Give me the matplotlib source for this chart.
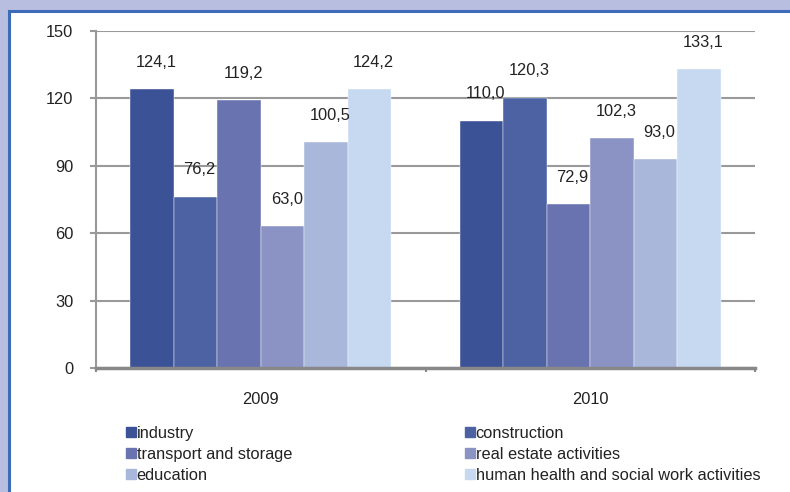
import numpy as np
import matplotlib.pyplot as plt
from matplotlib.patches import Rectangle
from matplotlib.lines import Line2D

years = ["2009", "2010"]
sectors = ["industry", "construction", "transport and storage",
           "real estate activities", "education",
           "human health and social work activities"]
values_2009 = [124.1, 76.2, 119.2, 63.0, 100.5, 124.2]
values_2010 = [110.0, 120.3, 72.9, 102.3, 93.0, 133.1]
colors = ["#3b5296", "#4c62a3", "#6873b0", "#8b93c4", "#a9b7db", "#c6d9f1"]

FS = 11.8
plt.rcParams['font.family'] = ['Liberation Sans', 'DejaVu Sans']
plt.rcParams['font.size'] = FS

fig = plt.figure(figsize=(7.9, 4.92), dpi=100, facecolor="#b8bee0")

# white panel with a blue border running off the right and bottom edges
W, H = 790.0, 492.0
frame = Rectangle((8.5 / W, -0.05), 1.2, 1 - 10.5 / H + 0.05,
                  transform=fig.transFigure, facecolor="white",
                  edgecolor="#3c6bb8", linewidth=2.2, zorder=-10)
fig.patches.append(frame)

ax = fig.add_axes([96 / W, 1 - 368 / H, (755 - 96) / W, (368 - 31) / H])
ax.set_facecolor("none")

data = np.array([values_2009, values_2010])
x = np.arange(len(years))
width = 0.132
for i, name in enumerate(sectors):
    pos = x + (i - 2.5) * width
    vals = data[:, i]
    ax.bar(pos, vals, width, color=colors[i], label=name, zorder=3,
           edgecolor="white", linewidth=0.3)
    for px, v in zip(pos, vals):
        ax.annotate(f"{v:.1f}".replace(".", ","), (px, v),
                    xytext=(3, 14), textcoords="offset points",
                    ha="center", va="bottom", fontsize=FS, color="#222222",
                    zorder=4)

ax.set_xlim(-0.5, 1.5)
ax.set_ylim(0, 150)
ax.set_yticks(np.arange(0, 151, 30))
ax.yaxis.grid(True, color="#999999", linewidth=1.5, zorder=1)
ax.set_axisbelow(True)

ax.set_xticks(x)
ax.set_xticklabels(years)
ax.set_xticks([-0.5, 0.5, 1.5], minor=True)
ax.tick_params(axis="x", which="major", length=0, pad=17, labelsize=FS)
ax.tick_params(axis="x", which="minor", length=3, width=1.5,
               color="#888888", direction="out")
ax.tick_params(axis="y", length=4.5, width=1.5, color="#999999",
               pad=12, labelsize=FS, labelcolor="#222222")
ax.tick_params(axis="x", labelcolor="#222222")

for side in ["top", "right"]:
    ax.spines[side].set_visible(False)
ax.spines["left"].set_color("#999999")
ax.spines["left"].set_linewidth(1.5)
ax.spines["bottom"].set_color("#888888")
ax.spines["bottom"].set_linewidth(2.5)
ax.spines["bottom"].set_zorder(5)

# legend split into two columns
def square(c):
    return Line2D([], [], marker="s", linestyle="none", markersize=6.5,
                  markerfacecolor=c, markeredgecolor=c)

left_idx = [0, 2, 4]
right_idx = [1, 3, 5]
for idx, x0 in [(left_idx, 126), (right_idx, 465)]:
    leg = fig.legend([square(colors[k]) for k in idx],
                     [sectors[k] for k in idx],
                     loc="upper left", bbox_to_anchor=(x0 / W, 1 - 426 / H),
                     frameon=False, handlelength=0.55, handletextpad=0.1,
                     labelspacing=0.36, borderpad=0, borderaxespad=0,
                     fontsize=FS)
    for t in leg.get_texts():
        t.set_color("#222222")

fig.savefig("out.png", dpi=100, facecolor=fig.get_facecolor())
